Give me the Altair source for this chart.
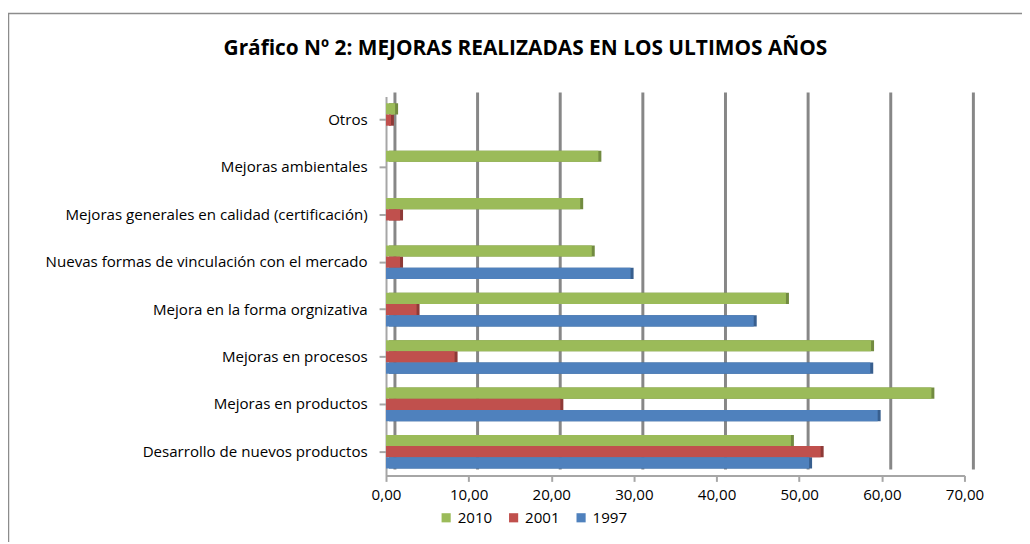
import altair as alt
import pandas as pd

categories = [
    "Otros",
    "Mejoras ambientales",
    "Mejoras generales en calidad (certificación)",
    "Nuevas formas de vinculación con el mercado",
    "Mejora en la forma orgnizativa",
    "Mejoras en procesos",
    "Mejoras en productos",
    "Desarrollo de nuevos productos",
]
series = ["2010", "2001", "1997"]
v2010 = [1.1, 25.7, 23.5, 24.9, 48.4, 58.7, 66.0, 49.0]
v2001 = [0.6, 0.0, 1.7, 1.7, 3.7, 8.3, 21.1, 52.6]
v1997 = [0.0, 0.0, 0.0, 29.6, 44.5, 58.6, 59.5, 51.2]
x_ticks = [0, 10, 20, 30, 40, 50, 60, 70]

colors = ["#9BBB59", "#C0504D", "#4F81BD"]
dark_colors = ["#728B40", "#8E3A37", "#385F8F"]

rows = []
for s, vals in zip(series, [v2010, v2001, v1997]):
    for c, v in zip(categories, vals):
        if v > 0:
            rows.append({"cat": c, "serie": s, "valor": v})
df = pd.DataFrame(rows)

FONT = "Open Sans"
FS = 15.2
W, H = 583, 382
PAD_L = 381

xscale = alt.Scale(domain=[0, 70], nice=False)
yenc = alt.Y("cat:N", sort=categories,
             scale=alt.Scale(paddingInner=0.29, paddingOuter=0.145),
             axis=alt.Axis(title=None, labelFont=FONT, labelFontSize=FS,
                           labelColor="#000000", labelPadding=12,
                           domainColor="#A6A6A6", domainWidth=2,
                           tickColor="#A6A6A6", tickSize=7, tickWidth=2,
                           labelLimit=400))
yoff = alt.YOffset("serie:N", sort=series, scale=alt.Scale(paddingInner=0, paddingOuter=0))

base = alt.Chart(df)

dark = base.mark_bar(xOffset=3, yOffset=-3).encode(
    x=alt.X("valor:Q", scale=xscale),
    y=yenc,
    yOffset=yoff,
    color=alt.Color("serie:N", scale=alt.Scale(domain=series, range=dark_colors), legend=None),
)

front = base.mark_bar().encode(
    x=alt.X("valor:Q", scale=xscale,
            axis=alt.Axis(title=None, values=x_ticks, grid=False, labelFlush=False,
                          labelExpr="replace(format(datum.value, '.2f'), '.', ',')",
                          labelFont=FONT, labelFontSize=FS, labelColor="#000000",
                          domainColor="#A6A6A6", domainWidth=2,
                          tickColor="#A6A6A6", tickSize=6, tickWidth=2, labelPadding=6)),
    y=yenc,
    yOffset=yoff,
    color=alt.Color("serie:N", scale=alt.Scale(domain=series, range=colors),
                    legend=alt.Legend(title=None, orient="none", direction="horizontal",
                                      legendX=53, legendY=417, symbolType="square",
                                      symbolSize=85, symbolStrokeWidth=0,
                                      labelFont=FONT, labelFontSize=FS,
                                      labelColor="#000000", columnPadding=14)),
)

grid = alt.Chart(pd.DataFrame({"v": x_ticks})).mark_rule(
    color="#878787", strokeWidth=3, xOffset=9
).encode(
    x=alt.X("v:Q", scale=xscale),
    y=alt.value(-4),
    y2=alt.value(376),
)

frame = alt.Chart(pd.DataFrame({"a": [0]})).mark_rect(
    fillOpacity=0, stroke="#8C8C8C", strokeWidth=1.5
).encode(
    x=alt.value(-PAD_L + 0.5), x2=alt.value(700),
    y=alt.value(-83.5), y2=alt.value(500),
)

chart = alt.layer(frame, grid, dark, front).resolve_scale(
    color="independent"
).properties(
    width=W, height=H,
    title=alt.Title("Gráfico Nº 2: MEJORAS REALIZADAS EN LOS ULTIMOS AÑOS",
                    font=FONT, fontSize=21, fontWeight="bold", color="#000000",
                    anchor="middle", frame="group", dx=-151, offset=-47),
    autosize=alt.AutoSizeParams(type="none"),
    padding={"left": PAD_L, "top": 87, "right": 58, "bottom": 65},
).configure_view(stroke=None)

chart.save("out.html", embed_options={"renderer": "svg", "actions": False})
